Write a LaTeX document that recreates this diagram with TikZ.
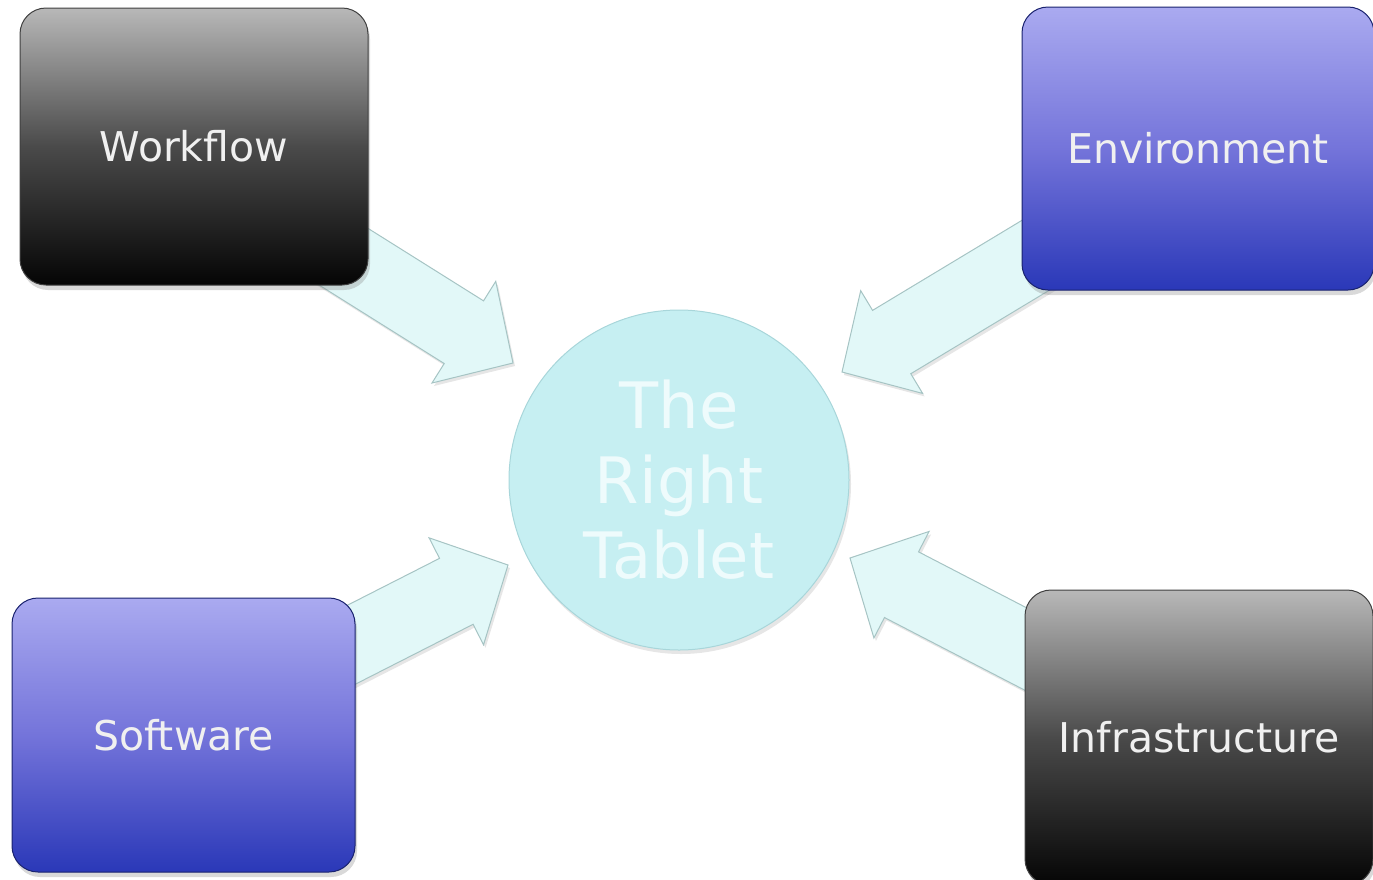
\documentclass[tikz,border=0pt]{standalone}
\usepackage{fontspec}
\setmainfont{DejaVu Sans}
\usetikzlibrary{calc,shadows,backgrounds}
\definecolor{arrowfill}{HTML}{E2F8F8}
\definecolor{arrowline}{HTML}{A6C4C4}
\definecolor{circfill}{HTML}{C6EFF2}
\definecolor{circline}{HTML}{A8D6DA}
\definecolor{circtext}{HTML}{EEFBFC}
\definecolor{bluetop}{HTML}{AAAAF0}
\definecolor{bluemid}{HTML}{7474DA}
\definecolor{bluebot}{HTML}{2A38B8}
\definecolor{graytop}{HTML}{B8B8B8}
\definecolor{graymid}{HTML}{4A4A4A}
\definecolor{graybot}{HTML}{050505}
\tikzset{
  boxbase/.style={rectangle, rounded corners=26pt, line width=1pt,
    text=white!94!black, font=\fontsize{41}{49}\selectfont,
    drop shadow={shadow xshift=2pt, shadow yshift=-5pt, opacity=0.3}},
  darkbox/.style={boxbase, draw=black!75, top color=graytop, bottom color=graybot, middle color=graymid},
  bluebox/.style={boxbase, draw=bluebot!60!black, top color=bluetop, bottom color=bluebot, middle color=bluemid},
  hub/.style={circle, minimum size=340pt, inner sep=0pt, fill=circfill, draw=circline, line width=1pt,
    text=circtext, align=center, font=\fontsize{64}{75}\selectfont,
    drop shadow={shadow xshift=2pt, shadow yshift=-4pt, opacity=0.2}},
  blockarr/.style={fill=arrowfill, draw=arrowline, line width=1pt, line join=miter,
    drop shadow={shadow xshift=2pt, shadow yshift=-3pt, opacity=0.2}}
}
\newcommand{\myarrow}[2]{%
  \coordinate (#1-hb) at ($(#2)!58pt!(#1)$);
  \draw[blockarr] ($(#1)!37pt!90:(#2)$) -- ($(#1-hb)!37pt!90:(#2)$) -- ($(#1-hb)!60pt!90:(#2)$)
    -- (#2) -- ($(#1-hb)!60pt!-90:(#2)$) -- ($(#1-hb)!37pt!-90:(#2)$) -- ($(#1)!37pt!-90:(#2)$) -- cycle;
}
\begin{document}
\begin{tikzpicture}[x=1pt,y=-1pt]
\useasboundingbox (0,0) rectangle (1373,879);
% boxes
\node[darkbox, minimum width=348pt, minimum height=277pt] (wf) at (194,146.5) {Workflow};
\node[bluebox, minimum width=352pt, minimum height=283pt] (env) at (1198,148.5) {Environment};
\node[bluebox, minimum width=343pt, minimum height=274pt] (sw) at (183.5,735) {Software};
\node[darkbox, minimum width=348pt, minimum height=295pt] (inf) at (1199,737.5) {Infrastructure};
% hub
\node[hub] (c) at (679,480) {The\\Right\\Tablet};
% arrow ends
\coordinate (wft) at ($(wf.center)+(107,83.5)$);
\coordinate (wfp) at ($(c.center)+(-166,-117)$);
\coordinate (envt) at ($(env.center)+(-142,94.5)$);
\coordinate (envp) at ($(c.center)+(163,-108)$);
\coordinate (swt) at ($(sw.center)+(101.5,-56.5)$);
\coordinate (swp) at ($(c.center)+(-171,85)$);
\coordinate (inft) at ($(inf.center)+(-127,-64.5)$);
\coordinate (infp) at ($(c.center)+(171,78)$);
\begin{scope}[on background layer]
\myarrow{wft}{wfp}
\myarrow{envt}{envp}
\myarrow{swt}{swp}
\myarrow{inft}{infp}
\end{scope}
\end{tikzpicture}
\end{document}
